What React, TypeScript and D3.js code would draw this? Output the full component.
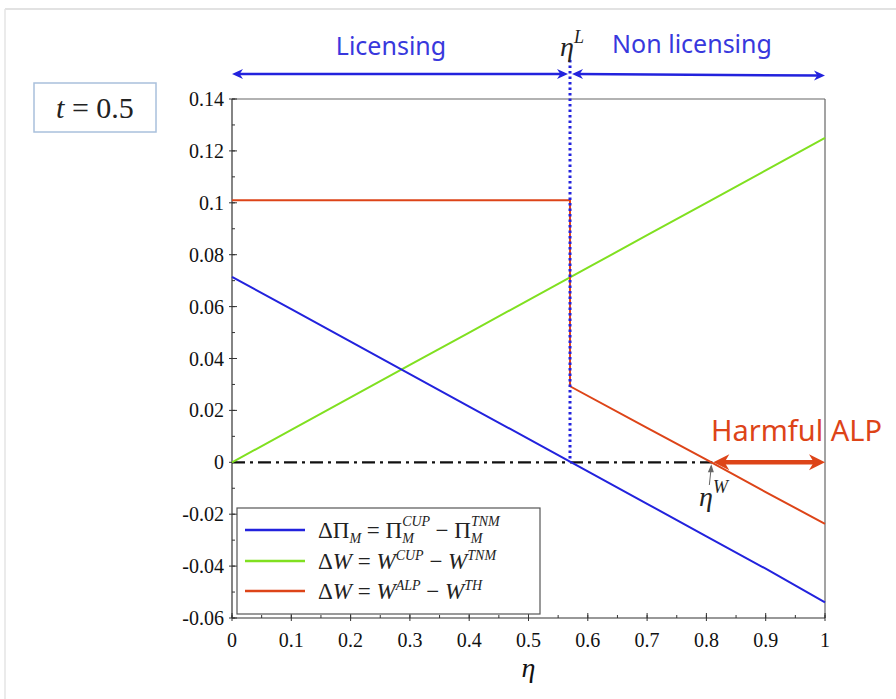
import * as d3 from "d3";

// --- data ---
const etaTicks = [0, 0.1, 0.2, 0.3, 0.4, 0.5, 0.6, 0.7, 0.8, 0.9, 1];
const etaTickLabels = ["0", "0.1", "0.2", "0.3", "0.4", "0.5", "0.6", "0.7", "0.8", "0.9", "1"];
const yTicks = [-0.06, -0.04, -0.02, 0, 0.02, 0.04, 0.06, 0.08, 0.1, 0.12, 0.14];
const yTickLabels = ["-0.06", "-0.04", "-0.02", "0", "0.02", "0.04", "0.06", "0.08", "0.1", "0.12", "0.14"];

const etaGrid = [0, 0.1, 0.2, 0.3, 0.4, 0.5, 0.6, 0.7, 0.8, 0.9, 1];
const profitDiff = [0.0715, 0.059, 0.0465, 0.034, 0.0215, 0.009, -0.0035, -0.016, -0.0285, -0.041, -0.054];
const welfareDiff = [0, 0.0125, 0.025, 0.0375, 0.05, 0.0625, 0.075, 0.0875, 0.1, 0.1125, 0.125];
const alpEta = [0, 0.57, 0.57, 0.7, 0.8, 0.9, 1];
const alpDiff = [0.101, 0.101, 0.0293, 0.0133, 0.001, -0.0115, -0.0237];

const etaL = 0.57;
const etaW = 0.81;

const BLUE = "#2222dd";
const GREEN = "#80e020";
const RED = "#dd4418";
const SERIF = "'Liberation Serif', 'DejaVu Serif', serif";
const SANS = "'Noto Sans', 'Open Sans', sans-serif";

function arrowHead(x: number, y: number, dir: 1 | -1, len: number, half: number) {
  // dir=1 points right, dir=-1 points left; (x,y) is the tip
  return `${x},${y} ${x - dir * len},${y - half} ${x - dir * len * 0.7},${y} ${x - dir * len},${y + half}`;
}

export default function App() {
  const x = d3.scaleLinear().domain([0, 1]).range([232, 825]);
  const y = d3.scaleLinear().domain([-0.06, 0.14]).range([618, 99]);

  const line = d3
    .line<[number, number]>()
    .x((d) => x(d[0]))
    .y((d) => y(d[1]));

  const blueData = etaGrid.map((e, i) => [e, profitDiff[i]] as [number, number]);
  const greenData = etaGrid.map((e, i) => [e, welfareDiff[i]] as [number, number]);
  const redData = alpEta.map((e, i) => [e, alpDiff[i]] as [number, number]);

  const xMinor = d3.range(0, 1.0001, 0.05);
  const yMinor = d3.range(-0.06, 0.1401, 0.01);

  const arrowY = 74;
  const x0 = x(0);
  const x1 = x(1);
  const xL = x(etaL);
  const xW = x(etaW);
  const y0 = y(0);

  return (
    <div style={{ position: "absolute", left: 0, top: 0 }}>
      <svg width={896} height={699} style={{ display: "block", background: "#fff" }}>
        {/* screenshot frame */}
        <line x1={5} y1={9} x2={896} y2={9} stroke="#d8d8d8" strokeWidth={1.5} />
        <line x1={5} y1={9} x2={5} y2={699} stroke="#e4e4e4" strokeWidth={1.5} />

        {/* t = 0.5 box */}
        <rect x={34} y={83} width={122} height={49} fill="#fff" stroke="#a9c0dc" strokeWidth={1.5} />
        <text x={95} y={118} textAnchor="middle" fontFamily={SERIF} fontSize={30} fill="#222">
          <tspan fontStyle="italic">t</tspan> = 0.5
        </text>

        {/* frame */}
        <line x1={x0} y1={y(0.14)} x2={x1} y2={y(0.14)} stroke="#666" strokeWidth={1.2} />
        <line x1={x1} y1={y(0.14)} x2={x1} y2={y(-0.06)} stroke="#666" strokeWidth={1.2} />
        <line x1={x0} y1={y(0.14)} x2={x0} y2={y(-0.06)} stroke="#333" strokeWidth={1.2} />
        <line x1={x0} y1={y(-0.06)} x2={x1} y2={y(-0.06)} stroke="#333" strokeWidth={1.2} />

        {/* y ticks */}
        {yMinor.map((v, i) => (
          <line key={"ym" + i} x1={x0} x2={x0 + 3} y1={y(v)} y2={y(v)} stroke="#333" />
        ))}
        {yTicks.map((v, i) => (
          <g key={"y" + i}>
            <line x1={x0 - 3} x2={x0 + 5} y1={y(v)} y2={y(v)} stroke="#333" />
            <text x={x0 - 8} y={y(v) + 7} textAnchor="end" fontFamily={SERIF} fontSize={20} fill="#111">
              {yTickLabels[i]}
            </text>
          </g>
        ))}

        {/* x ticks */}
        {xMinor.map((v, i) => (
          <line key={"xm" + i} x1={x(v)} x2={x(v)} y1={y(-0.06)} y2={y(-0.06) - 3} stroke="#333" />
        ))}
        {etaTicks.map((v, i) => (
          <g key={"x" + i}>
            <line x1={x(v)} x2={x(v)} y1={y(-0.06) + 3} y2={y(-0.06) - 5} stroke="#333" />
            <text x={x(v)} y={y(-0.06) + 29} textAnchor="middle" fontFamily={SERIF} fontSize={20} fill="#111">
              {etaTickLabels[i]}
            </text>
          </g>
        ))}
        <text x={x(0.5)} y={677} textAnchor="middle" fontFamily={SERIF} fontStyle="italic" fontSize={28} fill="#111">
          η
        </text>

        {/* zero line */}
        <line x1={x0} x2={xW} y1={y0} y2={y0} stroke="#111" strokeWidth={2.2} strokeDasharray="13,5,3,5" />

        {/* series */}
        <path d={line(greenData) ?? ""} fill="none" stroke={GREEN} strokeWidth={2} />
        <path d={line(blueData) ?? ""} fill="none" stroke={BLUE} strokeWidth={2} />
        <path d={line(redData) ?? ""} fill="none" stroke={RED} strokeWidth={2} />

        {/* eta^L dotted line */}
        <line x1={xL} x2={xL} y1={60} y2={y0} stroke={BLUE} strokeWidth={3} strokeDasharray="2.5,3" />

        {/* top region arrows */}
        <line x1={x0 + 6} x2={xL - 6} y1={arrowY} y2={arrowY} stroke={BLUE} strokeWidth={2.5} />
        <polygon points={arrowHead(x0, arrowY, -1, 11, 5)} fill={BLUE} />
        <polygon points={arrowHead(xL - 2, arrowY, 1, 11, 5)} fill={BLUE} />
        <line x1={xL + 6} x2={x1 - 6} y1={arrowY} y2={arrowY + 1.5} stroke={BLUE} strokeWidth={2.5} />
        <polygon points={arrowHead(xL + 2, arrowY, -1, 11, 5)} fill={BLUE} />
        <polygon points={arrowHead(x1, arrowY + 1.5, 1, 11, 5)} fill={BLUE} />
        <text x={391} y={55} textAnchor="middle" fontFamily={SANS} fontSize={25} fill="#3838dd">
          Licensing
        </text>
        <text x={692} y={53} textAnchor="middle" fontFamily={SANS} fontSize={25} fill="#3838dd">
          Non licensing
        </text>
        <text x={560} y={56} fontFamily={SERIF} fontStyle="italic" fontSize={28} fill="#222">
          η
          <tspan fontSize={18} dy={-13}>
            L
          </tspan>
        </text>

        {/* harmful ALP */}
        <line x1={xW + 10} x2={x1 - 10} y1={y0} y2={y0} stroke={RED} strokeWidth={4.5} />
        <polygon points={arrowHead(xW + 1, y0, -1, 16, 8)} fill={RED} />
        <polygon points={arrowHead(x1, y0, 1, 16, 8)} fill={RED} />
        <text x={711} y={441} fontFamily={SANS} fontSize={29} fill={RED}>
          Harmful ALP
        </text>

        {/* eta^W annotation */}
        <line x1={xW - 3} x2={xW - 1} y1={485} y2={466} stroke="#666" strokeWidth={1} />
        <polygon points={`${xW - 1},${y0 + 2} ${xW - 4.5},${y0 + 10} ${xW + 1.5},${y0 + 10}`} fill="#666" />
        <text x={699} y={506} fontFamily={SERIF} fontStyle="italic" fontSize={28} fill="#222">
          η
          <tspan fontSize={18} dy={-13}>
            W
          </tspan>
        </text>

        {/* legend */}
        <rect x={237} y={508} width={303} height={106} fill="#fff" stroke="#555" strokeWidth={1.2} />
        {[
          { c: BLUE, yy: 530 },
          { c: GREEN, yy: 561 },
          { c: RED, yy: 591 },
        ].map((d, i) => (
          <line key={"lg" + i} x1={245} x2={305} y1={d.yy} y2={d.yy} stroke={d.c} strokeWidth={2.5} />
        ))}
        <text x={318} y={538} fontFamily={SERIF} fontSize={23} fill="#222">
          ΔΠ
          <tspan fontStyle="italic" fontSize={14} dy={5}>M</tspan>
          <tspan dy={-5}> = Π</tspan>
          <tspan fontStyle="italic" fontSize={14} dy={-12}>CUP</tspan>
          <tspan fontStyle="italic" fontSize={14} dx={-28} dy={17}>M</tspan>
          <tspan dx={16} dy={-5}> − Π</tspan>
          <tspan fontStyle="italic" fontSize={14} dy={-12}>TNM</tspan>
          <tspan fontStyle="italic" fontSize={14} dx={-29} dy={17}>M</tspan>
        </text>
        <text x={318} y={569} fontFamily={SERIF} fontSize={23} fill="#222">
          Δ<tspan fontStyle="italic">W</tspan> = <tspan fontStyle="italic">W</tspan>
          <tspan fontStyle="italic" fontSize={14} dy={-9}>CUP</tspan>
          <tspan dy={9}> − </tspan>
          <tspan fontStyle="italic">W</tspan>
          <tspan fontStyle="italic" fontSize={14} dy={-9}>TNM</tspan>
        </text>
        <text x={318} y={599} fontFamily={SERIF} fontSize={23} fill="#222">
          Δ<tspan fontStyle="italic">W</tspan> = <tspan fontStyle="italic">W</tspan>
          <tspan fontStyle="italic" fontSize={14} dy={-9}>ALP</tspan>
          <tspan dy={9}> − </tspan>
          <tspan fontStyle="italic">W</tspan>
          <tspan fontStyle="italic" fontSize={14} dy={-9}>TH</tspan>
        </text>
      </svg>
    </div>
  );
}
